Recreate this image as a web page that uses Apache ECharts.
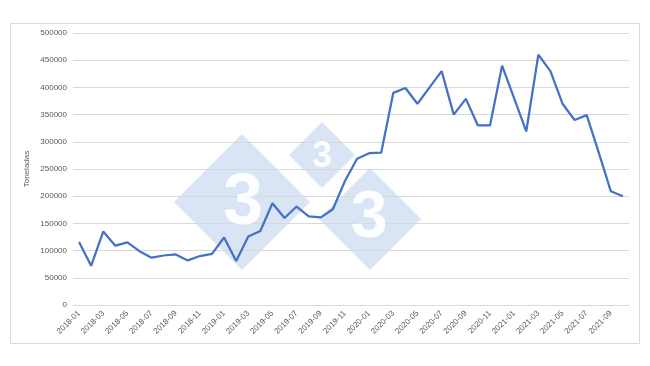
<!DOCTYPE html>
<html>
<head>
<meta charset="utf-8">
<script src="https://cdn.jsdelivr.net/npm/echarts@6/dist/echarts.min.js"></script>
<style>html,body{margin:0;padding:0;background:#fff;}#c{width:650px;height:366px;}</style>
</head>
<body>
<div id="c"></div>
<script>
const categories = [
  '2018-01','2018-02','2018-03','2018-04','2018-05','2018-06','2018-07','2018-08','2018-09','2018-10','2018-11','2018-12',
  '2019-01','2019-02','2019-03','2019-04','2019-05','2019-06','2019-07','2019-08','2019-09','2019-10','2019-11','2019-12',
  '2020-01','2020-02','2020-03','2020-04','2020-05','2020-06','2020-07','2020-08','2020-09','2020-10','2020-11','2020-12',
  '2021-01','2021-02','2021-03','2021-04','2021-05','2021-06','2021-07','2021-08','2021-09','2021-10'
];
const toneladas = [
  116000, 72000, 135000, 109000, 115000, 99000, 87000, 91000, 93000, 82000, 90000, 94000,
  124000, 81000, 126000, 136000, 187000, 160000, 181000, 163000, 161000, 176000, 228000, 269000,
  279000, 280000, 390000, 399000, 370000, 400000, 430000, 350000, 379000, 330000, 330000, 440000,
  380000, 319000, 460000, 430000, 370000, 340000, 349000, 280000, 209000, 200000
];
const yAxisName = 'Toneladas';

const chart = echarts.init(document.getElementById('c'), null, {renderer: 'canvas'});
const FONT = 'Liberation Sans';
function diamond(cx, cy, r) {
  return {
    type: 'polygon', z: 0, silent: true,
    shape: {points: [[cx - r, cy], [cx, cy - r], [cx + r, cy], [cx, cy + r]]},
    style: {fill: 'rgba(160,188,228,0.4)'}
  };
}
function three(cx, cy, size) {
  return {
    type: 'text', z: 1, silent: true, x: cx, y: cy,
    style: {text: '3', fill: 'rgba(255,255,255,0.95)', font: 'bold ' + size + 'px ' + FONT, align: 'center', verticalAlign: 'middle'}
  };
}
chart.setOption({
  animation: false,
  backgroundColor: '#fff',
  grid: {left: 73, right: 21, top: 33, bottom: 61},
  graphic: [
    {type: 'rect', z: 0, silent: true, shape: {x: 10.5, y: 23.5, width: 629, height: 320}, style: {fill: 'none', stroke: '#d9d9d9', lineWidth: 1}},
    diamond(242, 202, 68), three(243, 204, 72),
    diamond(322, 155, 33), three(322, 157, 36),
    diamond(370, 219, 51), three(369, 219, 66)
  ],
  xAxis: {
    type: 'category',
    data: categories,
    boundaryGap: true,
    axisLine: {show: true, lineStyle: {color: '#d9d9d9'}},
    axisTick: {show: false},
    axisLabel: {interval: 1, rotate: 45, fontSize: 8, color: '#595959', fontFamily: FONT, margin: 7}
  },
  yAxis: {
    type: 'value',
    min: 0, max: 500000, interval: 50000,
    name: yAxisName,
    nameLocation: 'middle',
    nameGap: 42,
    nameMoveOverlap: false,
    nameTextStyle: {fontSize: 8, color: '#595959', fontFamily: FONT},
    axisLine: {show: false},
    axisTick: {show: false},
    axisLabel: {fontSize: 8, color: '#595959', fontFamily: FONT, margin: 6, formatter: function (v) { return String(v); }},
    splitLine: {lineStyle: {color: '#d9d9d9', width: 1}}
  },
  series: [{
    type: 'line',
    data: toneladas,
    symbol: 'none',
    z: 5,
    lineStyle: {color: '#4472C4', width: 2.25},
    itemStyle: {color: '#4472C4'}
  }]
});
</script>
</body>
</html>
